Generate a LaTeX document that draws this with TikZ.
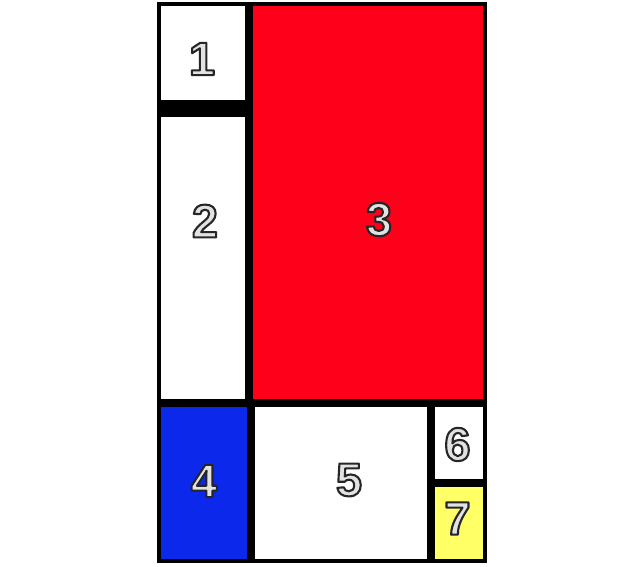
\documentclass[tikz,border=0pt]{standalone}
\usepackage{fontspec}
\setmainfont{Liberation Sans}
\definecolor{mred}{RGB}{255,0,26}
\definecolor{mblue}{RGB}{12,40,235}
\definecolor{myellow}{RGB}{255,255,102}
\definecolor{digfill}{RGB}{226,226,226}
\newcommand\mdig[1]{\textcolor{digfill}{\special{pdf:literal direct 0.15 0.15 0.15 RG 2.1 w 1 j 2 Tr}#1\special{pdf:literal direct 0 Tr}}}
\begin{document}
\begin{tikzpicture}[x=1pt,y=-1pt,
  digit/.style={font=\fontsize{47}{47}\selectfont\bfseries, inner sep=0pt}]
\useasboundingbox (0,0) rectangle (641,567);
\fill[white] (0,0) rectangle (641,567);
% black frame / grid
\fill[black] (157,2) rectangle (487,563);
% cells
\fill[white]    (161,6)   rectangle (245,100);
\fill[white]    (161,117) rectangle (245,399);
\fill[mred]     (253,6)   rectangle (483,399);
\fill[mblue]    (161,407) rectangle (247,559);
\fill[white]    (255,407) rectangle (427,559);
\fill[white]    (435,407) rectangle (483,479);
\fill[myellow]  (435,487) rectangle (483,559);
% digits
\node[digit] (d1) at (202,59)   {\mdig{1}};
\node[digit] (d2) at (205,221)  {\mdig{2}};
\node[digit] (d3) at (379,219.5){\mdig{3}};
\node[digit] (d4) at (204,481)  {\mdig{4}};
\node[digit] (d5) at (349,480)  {\mdig{5}};
\node[digit] (d6) at (457.5,444.5){\mdig{6}};
\node[digit] (d7) at (457.5,518.5){\mdig{7}};
\end{tikzpicture}
\end{document}
